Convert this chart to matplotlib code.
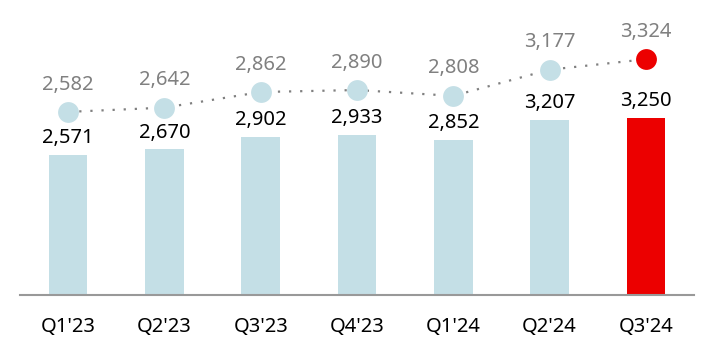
import matplotlib
matplotlib.use("Agg")
import matplotlib.pyplot as plt

plt.rcParams['font.family'] = ['Noto Sans', 'DejaVu Sans']

quarters = ["Q1'23", "Q2'23", "Q3'23", "Q4'23", "Q1'24", "Q2'24", "Q3'24"]
bar_values = [2571, 2670, 2902, 2933, 2852, 3207, 3250]
line_values = [2582, 2642, 2862, 2890, 2808, 3177, 3324]

blue = "#c4dfe6"
red = "#ec0000"
bar_colors = [blue] * 6 + [red]

fig = plt.figure(figsize=(7.14, 3.54), dpi=100)
ax = fig.add_axes([20 / 714, 1 - 295 / 354, 674 / 714, 295 / 354])
x = range(len(quarters))

ax.bar(x, bar_values, width=0.4, color=bar_colors, zorder=2)
for xi, v in zip(x, bar_values):
    ax.annotate(f"{v:,}", (xi, v), xytext=(0, 5), textcoords="offset points",
                ha="center", va="bottom", fontsize=14.5, color="black")

ax.set_xlim(-0.5, len(quarters) - 0.5)
ax.set_ylim(0, 295 * 18.35)
ax.set_xticks(list(x))
ax.set_xticklabels(quarters, fontsize=14.5)
ax.tick_params(axis='x', length=0, pad=16)
ax.set_yticks([])
for s in ["top", "right", "left"]:
    ax.spines[s].set_visible(False)
ax.spines["bottom"].set_color("#999999")
ax.spines["bottom"].set_linewidth(1.5)

ax2 = ax.twinx()
ax2.set_ylim(0, 295 * 14.1)
ax2.plot(x, line_values, linestyle=(0, (1, 4)), color="#808080", linewidth=1.6, zorder=1)
for xi, v, c in zip(x, line_values, bar_colors):
    ax2.plot(xi, v, marker="o", markersize=15, color=c, markeredgewidth=0, zorder=3)
    ax2.annotate(f"{v:,}", (xi, v), xytext=(0, 12.5), textcoords="offset points",
                 ha="center", va="bottom", fontsize=14.5, color="#808080")
ax2.set_yticks([])
for s in ax2.spines.values():
    s.set_visible(False)

fig.savefig("out.png", dpi=100)
